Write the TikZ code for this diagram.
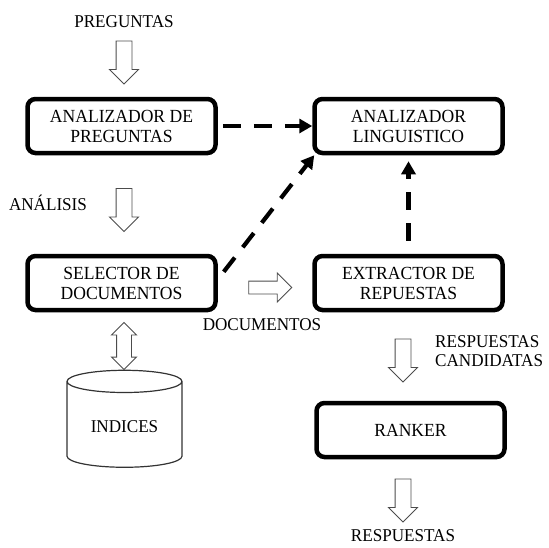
\documentclass[tikz,border=0pt]{standalone}
\usepackage{fontspec}
\setmainfont{Liberation Serif}[FakeStretch=0.95]
\usetikzlibrary{shapes.geometric, shapes.arrows, arrows.meta}
\tikzstyle{modulo} = [rectangle, rounded corners=8pt, minimum width=188pt, minimum height=54pt, text centered, align=center, line width=4.5pt, draw=black, font=\fontsize{18.5}{20}\selectfont]
\tikzstyle{etiqueta} = [inner sep=0pt, align=left, font=\fontsize{18}{19}\selectfont]
\tikzstyle{flecha} = [single arrow, draw=black!70, line width=0.9pt, minimum height=43pt, minimum width=28pt, single arrow head extend=6.5pt, single arrow head indent=0pt, inner xsep=0pt, inner ysep=7.5pt]
\tikzstyle{dobleflecha} = [double arrow, draw=black!70, line width=0.9pt, minimum height=47pt, minimum width=24pt, double arrow head extend=5pt, inner xsep=0pt, inner ysep=7pt]
\tikzstyle{base} = [cylinder, shape border rotate=90, aspect=0.3, draw=black!80, line width=1.2pt, minimum height=97pt, minimum width=115pt, font=\fontsize{18}{19}\selectfont]
\tikzstyle{punteada} = [line width=4.2pt, dash pattern=on 18pt off 13pt, -{Triangle[length=13pt,width=14pt]}]

\begin{document}
\begin{tikzpicture}[x=1pt, y=-1pt, node distance=287pt]
\useasboundingbox (0,0) rectangle (549,547);

%% NODES

\node (ap) [modulo] at (121.5,126) {ANALIZADOR DE\\PREGUNTAS};
\node (al) [modulo, right of=ap] {ANALIZADOR\\LINGUISTICO};
\node (sel) [modulo, below of=ap, node distance=157pt] {SELECTOR DE\\DOCUMENTOS};
\node (ext) [modulo, right of=sel] {EXTRACTOR DE\\REPUESTAS};
\node (rank) [modulo, below of=ext, node distance=147pt, xshift=2pt] {RANKER};
\node (ind) [base] at (124.5,426.5) {INDICES};

\node (preg) [etiqueta] at (124,22) {PREGUNTAS};
\node (anal) [etiqueta] at (48,203) {ANÁLISIS};
\node (docs) [etiqueta] at (262,325) {DOCUMENTOS};
\node (cand) [etiqueta, anchor=west] at (435,351) {RESPUESTAS\\CANDIDATAS};
\node (resp) [etiqueta] at (403,536) {RESPUESTAS};

\node (f1) [flecha, rotate=-90] at (124,58.5) {};
\node (f2) [flecha, rotate=-90] at (124,206) {};
\node (f3) [dobleflecha, rotate=90] at (124,346) {};
\node (f4) [flecha, inner ysep=6pt, single arrow head extend=8pt] at (267,287.5) {};
\node (f5) [flecha, rotate=-90] at (403,356.5) {};
\node (f6) [flecha, rotate=-90] at (403,496.5) {};

%% ARROWS

\draw [punteada] ([xshift=5pt]ap.east) -- (al.west);
\draw [punteada] ([xshift=6pt,yshift=-18pt]sel.north east) -- ([xshift=2pt]al.south west);
\draw [punteada] ([yshift=13pt]ext.north) -- ([yshift=-6pt]al.south);

\end{tikzpicture}
\end{document}
